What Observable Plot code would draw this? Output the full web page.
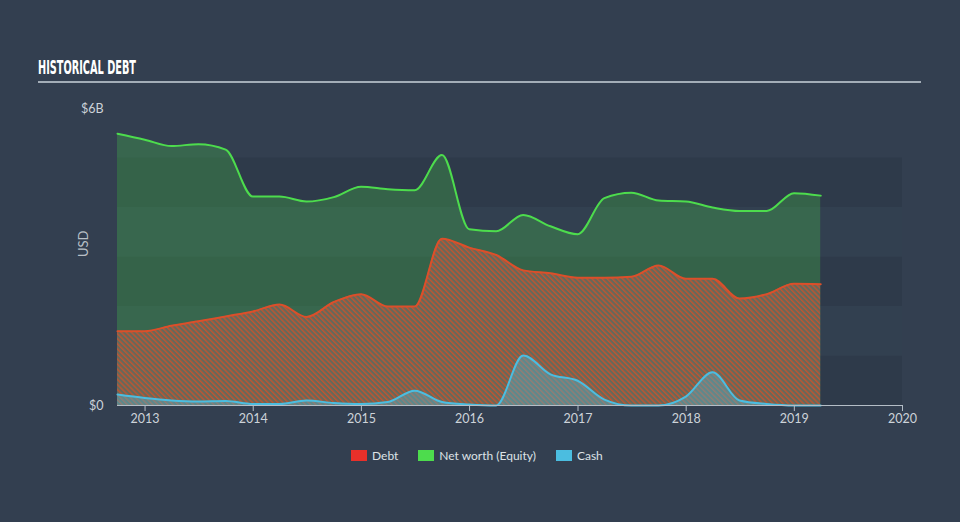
<!DOCTYPE html>
<html>
<head>
<meta charset="utf-8">
<script src="https://cdn.jsdelivr.net/npm/d3@7"></script>
<script src="https://cdn.jsdelivr.net/npm/@observablehq/plot@0.6"></script>
<style>
  html, body { margin: 0; padding: 0; background: #333f50; width: 960px; height: 522px; overflow: hidden; }
  #wrap { position: relative; width: 960px; height: 522px; font-family: Lato, "Open Sans", sans-serif; }
  #title { position: absolute; left: 38px; top: 56px; color: #ffffff; font-family: "Liberation Sans Narrow", "DejaVu Sans Condensed", sans-serif; font-weight: bold; font-size: 19px; white-space: nowrap; transform-origin: 0 0; }
  #rule { position: absolute; left: 38px; top: 81px; width: 883px; height: 2px; background: #a3adb7; }
  #chart { position: absolute; left: 0; top: 90px; }
  #legend { position: absolute; left: 351px; top: 448px; display: flex; align-items: center; font-size: 12px; color: #dde2e6; }
  .item { display: flex; align-items: center; margin-right: 20px; }
  .sw { width: 16px; height: 11px; margin-right: 5px; }
</style>
</head>
<body>
<div id="wrap">
  <div id="title">HISTORICAL DEBT</div>
  <div id="rule"></div>
  <div id="chart"></div>
  <div id="legend"></div>
</div>
<script>
// Quarterly report dates
const dates = [
  "2012-09-30","2012-12-31","2013-03-31","2013-06-30","2013-09-30","2013-12-31",
  "2014-03-31","2014-06-30","2014-09-30","2014-12-31","2015-03-31","2015-06-30",
  "2015-09-30","2015-12-31","2016-03-31","2016-06-30","2016-09-30","2016-12-31",
  "2017-03-31","2017-06-30","2017-09-30","2017-12-31","2018-03-31","2018-06-30",
  "2018-09-30","2018-12-31","2019-03-31"
];
// Values in US$ billions
const equity = [5.49,5.37,5.24,5.28,5.17,4.22,4.22,4.12,4.21,4.42,4.37,4.35,5.06,3.56,3.52,3.85,3.62,3.46,4.19,4.30,4.14,4.12,4.00,3.93,3.93,4.29,4.24];
const debt   = [1.50,1.50,1.61,1.70,1.80,1.90,2.04,1.79,2.09,2.25,2.00,2.00,3.37,3.19,3.04,2.73,2.67,2.58,2.58,2.60,2.83,2.56,2.56,2.16,2.25,2.46,2.45];
const cash   = [0.22,0.15,0.10,0.08,0.09,0.03,0.03,0.10,0.05,0.03,0.07,0.30,0.07,0.02,0.00,1.01,0.63,0.50,0.12,0.00,0.00,0.18,0.67,0.10,0.03,0.00,0.00];

const xTickYears = [2013,2014,2015,2016,2017,2018,2019,2020];
const yTicks = [0, 6];
const yTickLabels = ["$0", "$6B"];
const darkBands = [0, 2, 4];
const lightBands = [1, 3];

const seriesNames = ["Debt", "Net worth (Equity)", "Cash"];
const seriesColors = ["#e8302a", "#4ddc4d", "#4bbde0"];

const rows = dates.map((d, i) => ({date: new Date(d), equity: equity[i], debt: debt[i], cash: cash[i]}));
const x0 = new Date("2012-09-30"), x1 = new Date("2020-01-01");
const curve = "monotone-x";

const svg = Plot.plot({
  width: 960,
  height: 345,
  marginTop: 18,
  marginBottom: 30,
  marginLeft: 117,
  marginRight: 58,
  style: {background: "transparent", color: "#cdd3d9", fontFamily: "Lato, 'Open Sans', sans-serif", fontSize: "12.5px"},
  x: {type: "utc", domain: [x0, x1]},
  y: {domain: [0, 6]},
  marks: [
    Plot.rect(darkBands, {x1: () => x0, x2: () => x1, y1: d => d, y2: d => d + 1, fill: "#2e3a4a"}),
    Plot.rect(lightBands, {x1: () => x0, x2: () => x1, y1: d => d, y2: d => d + 1, fill: "#324050"}),
    Plot.areaY(rows, {x: "date", y: "equity", fill: "#4bd84b", fillOpacity: 0.26, curve}),
    Plot.areaY(rows, {x: "date", y: "debt", fill: "url(#hatchDebt)", curve}),
    Plot.areaY(rows, {x: "date", y: "cash", fill: "#4bbde0", fillOpacity: 0.38, curve}),
    Plot.lineY(rows, {x: "date", y: "equity", stroke: "#4ddc4d", strokeWidth: 2, curve}),
    Plot.lineY(rows, {x: "date", y: "debt", stroke: "#dc4f2a", strokeWidth: 2, curve}),
    Plot.lineY(rows, {x: "date", y: "cash", stroke: "#4bbde0", strokeWidth: 2, curve}),
    Plot.ruleY([0], {stroke: "#b4bdc6", strokeWidth: 1.2}),
    Plot.axisX(xTickYears.map(y => new Date(Date.UTC(y, 0, 1))), {
      tickSize: 6, tickPadding: 3, stroke: "#b4bdc6", tickFormat: d => String(d.getUTCFullYear()), label: null
    }),
    Plot.axisY(yTicks, {tickSize: 0, tickPadding: 14, tickFormat: d => yTickLabels[yTicks.indexOf(d)], label: null}),
    Plot.text(["USD"], {frameAnchor: "left", dx: -34, rotate: -90, text: d => d, fill: "#b8bfc6", fontSize: 13})
  ]
});

d3.select(svg).insert("defs", ":first-child").html(
  `<pattern id="hatchDebt" width="3.6" height="3.6" patternUnits="userSpaceOnUse" patternTransform="rotate(-45)">
     <rect width="3.6" height="3.6" fill="#66695a"/>
     <rect width="1.4" height="3.6" fill="#bf5532"/>
   </pattern>`
);
document.getElementById("chart").appendChild(svg);

// Legend
const legend = document.getElementById("legend");
seriesNames.forEach((name, i) => {
  const item = document.createElement("div");
  item.className = "item";
  const sw = document.createElement("div");
  sw.className = "sw";
  sw.style.background = seriesColors[i];
  const t = document.createElement("span");
  t.textContent = name;
  item.appendChild(sw);
  item.appendChild(t);
  legend.appendChild(item);
});

// Fit condensed title to reference width
const title = document.getElementById("title");
const w = title.getBoundingClientRect().width;
title.style.transform = `scaleX(${98 / w})`;
</script>
</body>
</html>
